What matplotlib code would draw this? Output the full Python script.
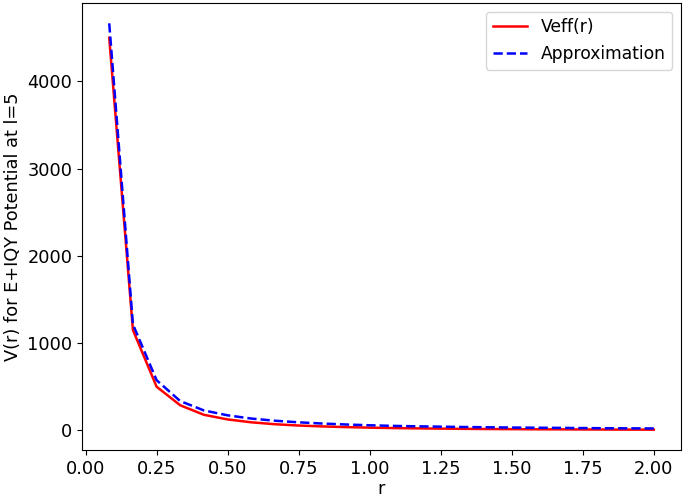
import numpy as np
import matplotlib
matplotlib.use("Agg")
import matplotlib.pyplot as plt

r = [0.0833, 0.1667, 0.25, 0.3333, 0.4167, 0.5, 0.5833, 0.6667, 0.75, 0.8333,
     0.9167, 1.0, 1.0833, 1.1667, 1.25, 1.3333, 1.4167, 1.5, 1.5833, 1.6667,
     1.75, 1.8333, 1.9167, 2.0]
veff = [4500, 1150, 500, 287, 178, 125, 92, 70, 55, 45,
        37, 31, 26, 22.5, 19.5, 17, 15, 13.5, 12, 11,
        10, 9, 8.3, 7.5]
approx = [4665, 1215, 575, 335, 228, 172, 135, 110, 92, 78,
          67, 58, 51, 46, 42, 38, 35, 32, 30, 28,
          26, 24, 23, 21.5]

plt.rcParams["font.size"] = 12.8

fig = plt.figure(figsize=(6.85, 5.0), dpi=100)
ax = fig.add_axes([0.1197, 0.1, 0.8745, 0.894])
ax.plot(r, veff, color="red", linestyle="-", linewidth=1.8, label="Veff(r)")
ax.plot(r, approx, color="blue", linestyle="--", linewidth=1.8, label="Approximation")
ax.set_xlabel("r", labelpad=2)
ax.set_ylabel("V(r) for E+IQY Potential at l=5")
ax.legend(loc="upper right", fontsize=12.3)
fig.savefig("out.png", dpi=100)
